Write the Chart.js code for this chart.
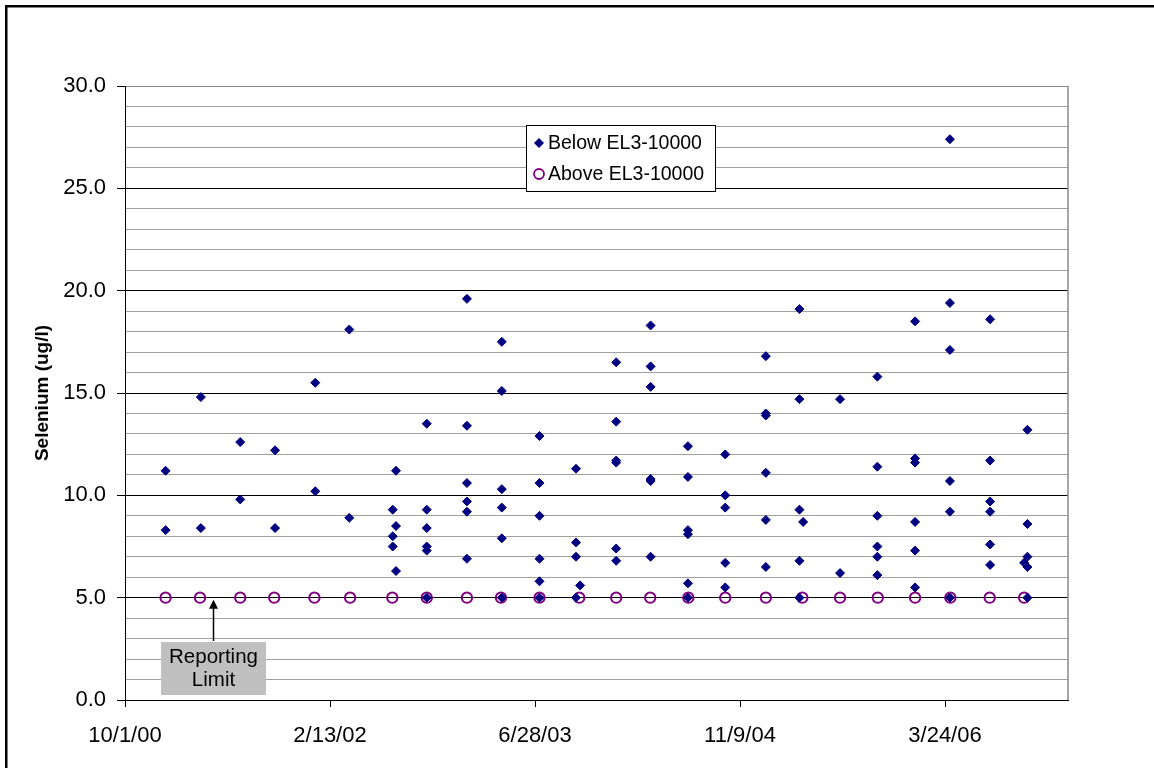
<!DOCTYPE html>
<html>
<head>
<meta charset="utf-8">
<title>Selenium</title>
<script src="https://cdn.jsdelivr.net/npm/chart.js@4.4.1/dist/chart.umd.min.js"></script>
<style>
  html, body { margin: 0; padding: 0; background: #fff; }
  canvas { display: block; }
</style>
</head>
<body>
<canvas id="seChart" width="1154" height="768"></canvas>
<script>
// sampling events with results below EL3-10000 (several results per event)
const belowDates = ['2001-01-08', '2001-04-04', '2001-07-09', '2001-10-02', '2002-01-08', '2002-04-01',
    '2002-07-16', '2002-07-24', '2002-10-07', '2003-01-13', '2003-04-08', '2003-07-09',
    '2003-10-06', '2003-10-16', '2004-01-12', '2004-04-05', '2004-07-05', '2004-10-04',
    '2005-01-11', '2005-04-03', '2005-04-12', '2005-07-11', '2005-10-10', '2006-01-10',
    '2006-04-05', '2006-07-12', '2006-10-03', '2006-10-11'];
const belowSelenium = [
    [11.2, 8.3], [14.8, 8.4], [12.6, 9.8], [12.2, 8.4], [15.5, 10.2], [18.1, 8.9],
    [9.3, 8.0, 7.5], [11.2, 8.5, 6.3], [13.5, 9.3, 8.4, 7.5, 7.3, 5.0],
    [19.6, 13.4, 10.6, 9.7, 9.2, 6.9], [17.5, 15.1, 10.3, 9.4, 7.9, 5.0],
    [12.9, 10.6, 9.0, 6.9, 5.8, 5.0], [11.3, 7.7, 7.0, 5.0], [5.6],
    [16.5, 13.6, 11.7, 11.6, 7.4, 6.8], [18.3, 16.3, 15.3, 10.8, 10.7, 7.0],
    [12.4, 10.9, 8.3, 8.1, 5.7, 5.0], [12.0, 10.0, 9.4, 6.7, 5.5],
    [16.8, 14.0, 13.9, 11.1, 8.8, 6.5], [19.1, 14.7, 9.3, 6.8, 5.0], [8.7],
    [14.7, 6.2], [15.8, 11.4, 9.0, 7.5, 7.0, 6.1], [18.5, 11.8, 11.6, 8.7, 7.3, 5.5],
    [27.4, 19.4, 17.1, 10.7, 9.2, 5.0], [18.6, 11.7, 9.7, 9.2, 7.6, 6.6],
    [6.7], [13.2, 8.6, 7.0, 6.5, 5.0]
];

// results above EL3-10000, all at the reporting limit
const aboveDates = ['2001-01-08', '2001-04-02', '2001-07-09', '2001-09-30', '2002-01-06', '2002-04-03',
    '2002-07-15', '2002-10-07', '2003-01-13', '2003-04-06', '2003-07-09', '2003-10-14',
    '2004-01-12', '2004-04-04', '2004-07-06', '2004-10-04', '2005-01-11', '2005-04-10',
    '2005-07-11', '2005-10-11', '2006-01-10', '2006-04-06', '2006-07-11', '2006-10-03'];
const aboveSelenium = [5.0, 5.0, 5.0, 5.0, 5.0, 5.0, 5.0, 5.0, 5.0, 5.0, 5.0, 5.0,
    5.0, 5.0, 5.0, 5.0, 5.0, 5.0, 5.0, 5.0, 5.0, 5.0, 5.0, 5.0];

const seriesNames = ['Below EL3-10000', 'Above EL3-10000'];
const xTickDates = ['2000-10-01', '2002-02-13', '2003-06-28', '2004-11-09', '2006-03-24'];
const xRange = ['2000-10-01', '2007-01-18'];
const yRange = [0, 30];
const reportingLimitText = ['Reporting', 'Limit'];

const FONT = '"Liberation Sans", Arial, Helvetica, sans-serif';

// dates -> spreadsheet day numbers, so the axis ticks fall where the sheet put them
function toSerial(iso) {
    const p = iso.split('-').map(Number);
    return Math.round((Date.UTC(p[0], p[1] - 1, p[2]) - Date.UTC(1899, 11, 30)) / 864e5);
}

function serialLabel(v) {
    const d = new Date(Date.UTC(1899, 11, 30) + v * 864e5);
    return (d.getUTCMonth() + 1) + '/' + d.getUTCDate() + '/' + String(d.getUTCFullYear()).slice(2);
}

const belowPoints = [];
belowDates.forEach((d, i) => {
    belowSelenium[i].forEach(v => belowPoints.push({ x: toSerial(d), y: v }));
});
const abovePoints = aboveDates.map((d, i) => ({ x: toSerial(d), y: aboveSelenium[i] }));

const framePlugin = {
    id: 'frame',
    beforeDraw(chart) {
        const ctx = chart.ctx;
        ctx.save();
        ctx.fillStyle = '#fff';
        ctx.fillRect(0, 0, chart.width, chart.height);
        ctx.fillStyle = '#000';
        ctx.fillRect(5, 5, 2.5, chart.height);
        ctx.fillRect(5, 5, chart.width, 2.5);
        ctx.restore();
    },
    afterDraw(chart) {
        const ctx = chart.ctx;
        const a = chart.chartArea;
        ctx.save();
        // right edge of plot area
        ctx.strokeStyle = '#888';
        ctx.lineWidth = 1.5;
        ctx.beginPath();
        ctx.moveTo(a.right, a.top);
        ctx.lineTo(a.right, a.bottom);
        ctx.stroke();

        // legend box
        const ds = chart.data.datasets;
        ctx.fillStyle = '#fff';
        ctx.fillRect(526, 125, 190, 67);
        ctx.strokeStyle = '#000';
        ctx.lineWidth = 1;
        ctx.strokeRect(526.5, 125.5, 189, 66);
        ctx.font = '19.5px ' + FONT;
        ctx.textBaseline = 'middle';
        ctx.textAlign = 'left';
        const rows = [143, 174];
        // diamond
        ctx.fillStyle = ds[0].backgroundColor;
        ctx.beginPath();
        ctx.moveTo(539, rows[0] - 5);
        ctx.lineTo(544, rows[0]);
        ctx.lineTo(539, rows[0] + 5);
        ctx.lineTo(534, rows[0]);
        ctx.closePath();
        ctx.fill();
        // open circle
        ctx.strokeStyle = ds[1].borderColor;
        ctx.lineWidth = 1.8;
        ctx.beginPath();
        ctx.arc(539, rows[1], 5, 0, Math.PI * 2);
        ctx.stroke();
        ctx.fillStyle = '#000';
        ctx.fillText(ds[0].label, 548, rows[0] + 1);
        ctx.fillText(ds[1].label, 548, rows[1] + 1);

        // reporting limit note
        const y5 = chart.scales.y.getPixelForValue(5);
        const ax = 213.5;
        ctx.fillStyle = '#c0c0c0';
        ctx.fillRect(161, 642, 105, 53);
        ctx.fillStyle = '#000';
        ctx.font = '20.5px ' + FONT;
        ctx.textAlign = 'center';
        ctx.textBaseline = 'alphabetic';
        ctx.fillText(reportingLimitText[0], ax, 663);
        ctx.fillText(reportingLimitText[1], ax, 686);
        ctx.strokeStyle = '#000';
        ctx.lineWidth = 1.5;
        ctx.beginPath();
        ctx.moveTo(ax, 641);
        ctx.lineTo(ax, y5 + 8);
        ctx.stroke();
        ctx.beginPath();
        ctx.moveTo(ax, y5 + 2);
        ctx.lineTo(ax + 4.5, y5 + 11);
        ctx.lineTo(ax - 4.5, y5 + 11);
        ctx.closePath();
        ctx.fill();
        ctx.restore();
    }
};

document.addEventListener('DOMContentLoaded', function() {
    initChart();
});

function initChart() {
    Chart.defaults.font.family = FONT;
    Chart.defaults.color = '#000';
    const ctx = document.getElementById('seChart').getContext('2d');
    new Chart(ctx, {
        type: 'scatter',
        data: {
            datasets: [{
                label: seriesNames[0],
                data: belowPoints,
                pointStyle: 'rectRot',
                pointRadius: 4.5,
                borderWidth: 1,
                backgroundColor: '#000080',
                borderColor: '#000080'
            }, {
                label: seriesNames[1],
                data: abovePoints,
                pointStyle: 'circle',
                pointRadius: 5.2,
                borderWidth: 2,
                backgroundColor: 'rgba(0,0,0,0)',
                borderColor: '#800080'
            }]
        },
        options: {
            responsive: false,
            animation: false,
            devicePixelRatio: 1,
            layout: { padding: { left: 0, right: 86, top: 86, bottom: 0 } },
            plugins: {
                legend: { display: false },
                tooltip: { enabled: false }
            },
            scales: {
                x: {
                    type: 'linear',
                    min: toSerial(xRange[0]),
                    max: toSerial(xRange[1]),
                    afterBuildTicks: axis => {
                        axis.ticks = xTickDates.map(d => ({ value: toSerial(d) }));
                    },
                    afterFit: scale => { scale.height = 68; },
                    ticks: {
                        callback: v => serialLabel(v),
                        font: { size: 22 },
                        padding: 16,
                        maxRotation: 0,
                        autoSkip: false
                    },
                    grid: {
                        drawOnChartArea: false,
                        tickLength: 7,
                        tickColor: '#000'
                    },
                    border: { color: '#000', width: 1 }
                },
                y: {
                    min: yRange[0],
                    max: yRange[1],
                    afterFit: scale => { scale.width = 125; },
                    ticks: {
                        stepSize: 1,
                        autoSkip: false,
                        font: { size: 22 },
                        padding: 11,
                        callback: v => (v % 5 === 0 ? v.toFixed(1) : '')
                    },
                    grid: {
                        tickLength: 8,
                        color: c => (c.tick.value === 30 ? '#888' : (c.tick.value % 5 === 0 ? '#000' : '#a0a0a0')),
                        tickColor: c => (c.tick.value % 5 === 0 ? '#000' : 'rgba(0,0,0,0)')
                    },
                    border: { color: '#000', width: 1 },
                    title: {
                        display: true,
                        text: 'Selenium (ug/l)',
                        font: { size: 19, weight: 'bold' },
                        padding: { top: 31, bottom: 0 }
                    }
                }
            }
        },
        plugins: [framePlugin]
    });
}
</script>
</body>
</html>
